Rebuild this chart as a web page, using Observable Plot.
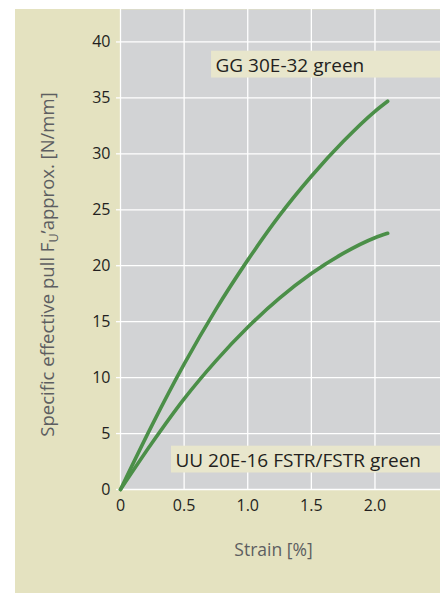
<!DOCTYPE html>
<html><head><meta charset="utf-8">
<script src="https://cdn.jsdelivr.net/npm/d3@7"></script>
<script src="https://cdn.jsdelivr.net/npm/@observablehq/plot@0.6"></script>
<style>
body{margin:0;background:#fff;}
#wrap{position:relative;width:440px;height:593px;background:#fff;overflow:hidden;}
#panel{position:absolute;left:15px;top:9px;right:0;bottom:0;background:#e4e2c0;}
#chart{position:absolute;left:0;top:0;}
</style></head><body>
<div id="wrap"><div id="panel"></div><div id="chart"></div></div>
<script>
// Data
const strain = [0, 0.25, 0.5, 0.75, 1.0, 1.25, 1.5, 1.75, 2.0, 2.1];
const ggPull = [0, 5.8, 11.2, 16.1, 20.5, 24.5, 28.0, 31.1, 33.8, 34.7];
const uuPull = [0, 4.2, 8.1, 11.5, 14.5, 17.1, 19.3, 21.1, 22.5, 22.9];
const seriesNames = ["GG 30E-32 green", "UU 20E-16 FSTR/FSTR green"];
const labelStrain = [0.747, 0.432];
const labelPull = [37.9, 2.6];
const xTicks = [0, 0.5, 1.0, 1.5, 2.0];
const xTickLabels = ["0", "0.5", "1.0", "1.5", "2.0"];
const yTicks = [0, 5, 10, 15, 20, 25, 30, 35, 40];
const xLabel = "Strain [%]";
const yLabel = "Specific effective pull FU\u2019approx. [N/mm]";

const rows = [];
strain.forEach((s, i) => {
  rows.push({series: seriesNames[0], strain: s, pull: ggPull[i]});
  rows.push({series: seriesNames[1], strain: s, pull: uuPull[i]});
});
const labels = seriesNames.map((n, i) => ({text: n, strain: labelStrain[i], pull: labelPull[i]}));

const W = 440, H = 593;
const green = "#4b8f48";
const plot = Plot.plot({
  width: W, height: H,
  marginLeft: 120, marginTop: 9, marginRight: 0, marginBottom: 104,
  x: {domain: [0, 2.515]},
  y: {domain: [0, 42.9]},
  style: {background: "transparent", fontFamily: "'Open Sans', sans-serif", overflow: "hidden"},
  marks: [
    Plot.frame({fill: "#d2d3d5", stroke: null}),
    Plot.gridX(xTicks, {stroke: "#fff", strokeOpacity: 1, strokeWidth: 1.3}),
    Plot.gridY(yTicks, {stroke: "#fff", strokeOpacity: 1, strokeWidth: 1.3}),
    Plot.axisX(xTicks, {tickSize: 0, tickPadding: 10, fontSize: 16, fill: "#231f20", label: null,
      tickFormat: d => xTickLabels[xTicks.indexOf(d)]}),
    Plot.axisY(yTicks, {tickSize: 4, tickPadding: 6, fontSize: 16, stroke: "#fff", strokeWidth: 1.3, fill: "#231f20", label: null}),
    Plot.line(rows, {x: "strain", y: "pull", z: "series", stroke: green, strokeWidth: 3.6,
      curve: "monotone-x", strokeLinecap: "round"}),
    Plot.text(labels, {x: "strain", y: "pull", text: "text", textAnchor: "start", fontSize: 19, fill: "#231f20"}),
    Plot.text([yLabel], {frameAnchor: "left", textAnchor: "middle", rotate: -90, dx: -72, dy: 15, fontSize: 18.5, fill: "#5d5e61"}),
    Plot.text([xLabel], {frameAnchor: "bottom", dx: -7, dy: 66, fontSize: 17.5, fill: "#5d5e61"})
  ]
});
document.getElementById("chart").appendChild(plot);

const svg = d3.select(plot);
// label backgrounds (drawn behind each label, extended to the right edge)
svg.selectAll("text").filter(function() { return seriesNames.includes(this.textContent); })
  .each(function() {
    const b = this.getBBox();
    const tr = this.getAttribute("transform");
    const m = this.getCTM();
    const left = b.x - 4.5;
    const r = d3.select(this.parentNode).insert("rect", () => this)
      .attr("x", left).attr("y", b.y - 0.8)
      .attr("width", W - (m.e + left) + 2).attr("height", b.height + 0.8)
      .attr("fill", "#e8e6cc");
    if (tr) r.attr("transform", tr);
  });
// subscript in y label
svg.selectAll("text").filter(function() { return this.textContent === yLabel; })
  .each(function() {
    const t = d3.select(this);
    t.text(null);
    t.append("tspan").text("Specific effective pull F");
    t.append("tspan").attr("font-size", 12.5).attr("dy", 3.5).text("U");
    t.append("tspan").attr("dy", -3.5).text("\u2019approx. [N/mm]");
  });
</script>
</body></html>
